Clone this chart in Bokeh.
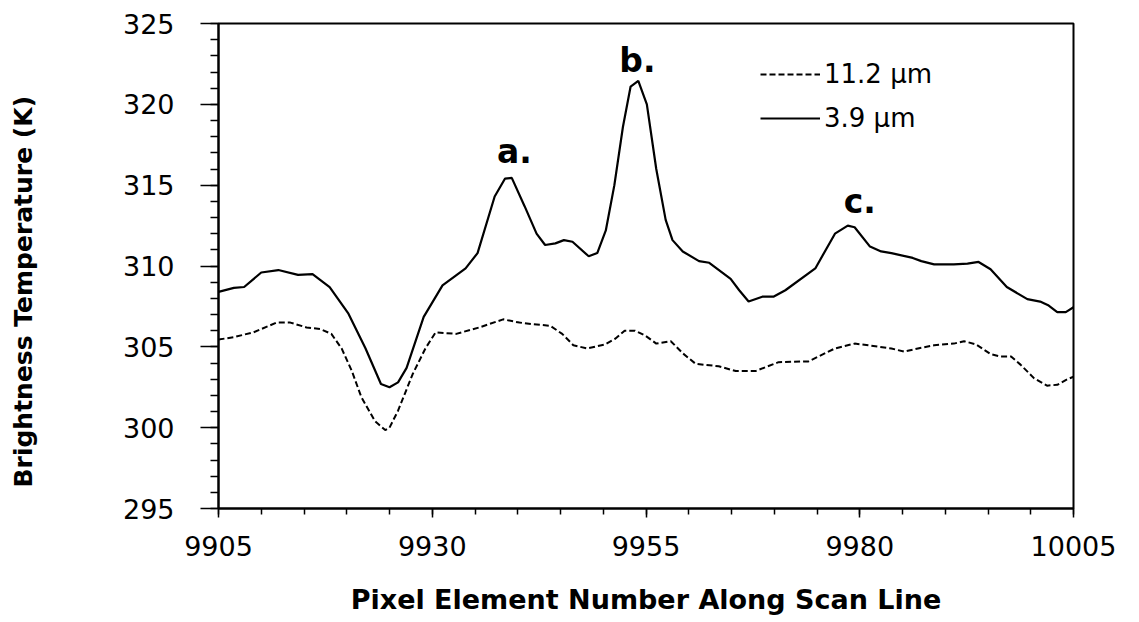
from bokeh.plotting import figure
from bokeh.models import FixedTicker, Legend, LegendItem, Title, Range1d
from bokeh.core.properties import value
from bokeh.embed import file_html
from bokeh.resources import INLINE

# 3.9 um channel (solid)
px_39 = [9905, 9906.8, 9908, 9910, 9912, 9914.3, 9916, 9918, 9920.2, 9922.2,
         9924, 9925, 9926, 9927, 9929, 9931.2, 9933.9, 9935.3, 9937.3, 9938.5,
         9939.3, 9940.8, 9942.2, 9943.2, 9944.4, 9945.4, 9946.4, 9948.3, 9949.3,
         9950.3, 9951.3, 9952.3, 9953.2, 9954.1, 9955.1, 9956.2, 9957.3, 9958.1,
         9959.3, 9961.2, 9962.4, 9964.9, 9965.9, 9967, 9968.6, 9969.9, 9971.3,
         9974.8, 9977.1, 9978.6, 9979.4, 9981.2, 9982.5, 9983.7, 9986.2, 9987.2,
         9988.7, 9991, 9992.6, 9993.9, 9995.3, 9997.2, 9999.6, 10001.1, 10002.1,
         10003.1, 10004.1, 10005]
tb_39 = [308.4, 308.65, 308.7, 309.6, 309.75, 309.45, 309.5, 308.7, 307.05, 304.9,
         302.7, 302.5, 302.8, 303.7, 306.85, 308.8, 309.85, 310.8, 314.3, 315.4,
         315.45, 313.7, 312.0, 311.3, 311.4, 311.6, 311.5, 310.6, 310.8,
         312.2, 315.0, 318.6, 321.1, 321.45, 320.0, 316.0, 312.85, 311.6,
         310.9, 310.3, 310.2, 309.2, 308.5, 307.8, 308.1, 308.1, 308.5,
         309.85, 312.0, 312.5, 312.4, 311.2, 310.9, 310.8, 310.5, 310.3,
         310.1, 310.1, 310.15, 310.25, 309.8, 308.7, 307.95, 307.8, 307.55,
         307.15, 307.15, 307.45]

# 11.2 um channel (dashed)
px_112 = [9905, 9906.8, 9909.1, 9911.8, 9913.4, 9915.3, 9916.9, 9918.2, 9919.4,
          9920.6, 9921.7, 9923.3, 9924.5, 9925, 9926, 9927.7, 9929.2, 9930.4,
          9932.8, 9935.5, 9938.3, 9940.2, 9941.8, 9943.8, 9945.2, 9946.5, 9948.1,
          9950.2, 9951.4, 9952.5, 9953.7, 9954.9, 9956.2, 9957.9, 9959.3, 9960.8,
          9963.5, 9965.5, 9967.8, 9970.5, 9974, 9977.1, 9979.4, 9981, 9983.7,
          9985.2, 9986.8, 9988.7, 9991, 9992.2, 9993.6, 9995.3, 9996.5, 9997.7,
          9998.8, 10000.4, 10001.9, 10003.1, 10004.3, 10005]
tb_112 = [305.45, 305.6, 305.9, 306.5, 306.5, 306.2, 306.1, 305.8, 304.9,
          303.5, 301.9, 300.4, 299.85, 300.0, 301.05, 303.3, 304.9, 305.9,
          305.8, 306.2, 306.7, 306.5, 306.4, 306.3, 305.8, 305.1, 304.9,
          305.15, 305.5, 306.0, 306.0, 305.7, 305.2, 305.35, 304.6, 303.95,
          303.8, 303.5, 303.5, 304.05, 304.1, 304.9, 305.2, 305.1, 304.9,
          304.7, 304.9, 305.1, 305.2, 305.35, 305.15, 304.55, 304.4, 304.4,
          303.9, 303.05, 302.6, 302.65, 303.0, 303.15]

# peak annotations
peak_labels = ["a.", "b.", "c."]
peak_x = [9939.6, 9954.0, 9980.0]
peak_y = [317.1, 322.7, 314.0]

x_ticks = [9905, 9930, 9955, 9980, 10005]
y_ticks = [295, 300, 305, 310, 315, 320, 325]
legend_names = ["11.2 \u00b5m", "3.9 \u00b5m"]

p = figure(frame_width=855, frame_height=485, output_backend="svg",
           toolbar_location=None,
           x_range=Range1d(9905, 10005), y_range=Range1d(295, 325),
           min_border_left=218, min_border_right=58,
           min_border_top=23, min_border_bottom=106)
p.xgrid.visible = False
p.ygrid.visible = False
p.outline_line_color = "black"
p.outline_line_width = 2
p.background_fill_color = "white"
p.border_fill_color = "white"

r112 = p.line(px_112, tb_112, line_color="black", line_width=2, line_dash="6 3")
r39 = p.line(px_39, tb_39, line_color="black", line_width=2.2)

p.text(x=peak_x, y=peak_y, text=peak_labels, text_font=value("DejaVu Sans"),
       text_font_size="33px", text_font_style="bold", text_align="center",
       text_baseline="alphabetic", text_color="black")

xa = p.xaxis[0]
xa.ticker = FixedTicker(ticks=x_ticks,
                        minor_ticks=list(range(x_ticks[0], x_ticks[-1] + 1, 5)))
ya = p.yaxis[0]
ya.ticker = FixedTicker(ticks=y_ticks,
                        minor_ticks=list(range(y_ticks[0], y_ticks[-1] + 1, 1)))
for ax in (xa, ya):
    ax.axis_line_width = 2
    ax.axis_line_color = "black"
    ax.major_tick_line_color = "black"
    ax.minor_tick_line_color = "black"
    ax.major_tick_line_width = 1.5
    ax.minor_tick_line_width = 1.5
    ax.major_tick_in = 0
    ax.minor_tick_in = 0
    ax.major_label_text_font = "DejaVu Sans"
    ax.major_label_text_font_size = "27px"
    ax.major_label_text_color = "black"

xa.major_tick_out = 9
xa.minor_tick_out = 6
xa.major_label_standoff = 18
xa.axis_label = "Pixel Element Number Along Scan Line"
xa.axis_label_text_font = "DejaVu Sans"
xa.axis_label_text_font_style = "bold"
xa.axis_label_text_font_size = "27px"
xa.axis_label_standoff = 25
xa.axis_label_text_color = "black"

ya.major_tick_out = 18
ya.minor_tick_out = 8
ya.major_label_standoff = 26
# blank spacer label widens the left axis panel so the title sits at the edge
ya.axis_label = " "
ya.axis_label_text_font_size = "1px"
ya.axis_label_standoff = 76

ytitle = Title(text="Brightness Temperature (K)", align="left", offset=21,
               vertical_align="top", standoff=0,
               text_font="DejaVu Sans", text_font_style="bold",
               text_font_size="25px", text_color="black")
p.add_layout(ytitle, "left")

legend = Legend(items=[LegendItem(label=legend_names[0], renderers=[r112]),
                       LegendItem(label=legend_names[1], renderers=[r39])],
                location=(542, 375), orientation="vertical",
                glyph_width=60, glyph_height=30, label_height=30,
                label_standoff=4, spacing=14, padding=0, margin=0,
                label_text_font="DejaVu Sans", label_text_font_size="26px",
                label_text_color="black",
                border_line_color=None, background_fill_alpha=0)
p.add_layout(legend)

open("out.html", "w").write(file_html(p, INLINE))
